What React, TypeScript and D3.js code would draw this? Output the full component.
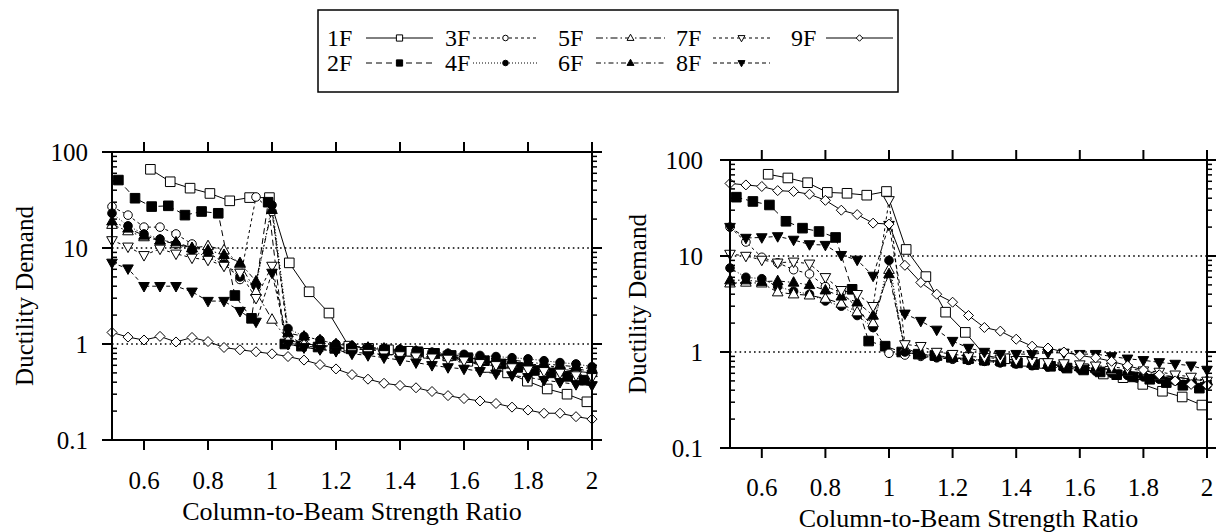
import React from 'react';
import * as d3 from 'd3';

// ---------- DATA ----------
const X_GRID = [0.5, 0.55, 0.6, 0.65, 0.7, 0.75, 0.8, 0.85, 0.9, 0.95, 1.0, 1.05, 1.1, 1.15, 1.2, 1.25, 1.3, 1.35, 1.4, 1.45, 1.5, 1.55, 1.6, 1.65, 1.7, 1.75, 1.8, 1.85, 1.9, 1.95, 2.0];
const X_1F = [0.62, 0.682, 0.744, 0.806, 0.868, 0.93, 0.992, 1.054, 1.116, 1.178, 1.24, 1.302, 1.364, 1.426, 1.488, 1.55, 1.612, 1.674, 1.736, 1.798, 1.86, 1.922, 1.984];
const X_2F = [0.52, 0.572, 0.624, 0.676, 0.728, 0.78, 0.832, 0.884, 0.936, 0.988, 1.04, 1.092, 1.144, 1.196, 1.248, 1.3, 1.352, 1.404, 1.456, 1.508, 1.56, 1.612, 1.664, 1.716, 1.768, 1.82, 1.872, 1.924, 1.976];

const X_TICKS = [0.6, 0.8, 1.0, 1.2, 1.4, 1.6, 1.8, 2.0];
const X_TICK_LABELS = ['0.6', '0.8', '1', '1.2', '1.4', '1.6', '1.8', '2'];
const Y_TICKS = [0.1, 1, 10, 100];
const Y_TICK_LABELS = ['0.1', '1', '10', '100'];
const REF_LINES = [1, 10];

const SERIES_NAMES = ['1F', '2F', '3F', '4F', '5F', '6F', '7F', '8F', '9F'];

// Left panel
const L_1F = [66, 49, 42, 37, 31, 33.5, 33.5, 7, 3.5, 2.1, 0.95, 0.9, 0.87, 0.84, 0.8, 0.75, 0.66, 0.57, 0.5, 0.41, 0.34, 0.3, 0.25];
const L_2F = [51, 33, 27, 27.5, 22, 24, 23, 3.2, 1.85, 30, 1.0, 0.95, 0.93, 0.9, 0.89, 0.87, 0.86, 0.84, 0.83, 0.8, 0.76, 0.72, 0.67, 0.62, 0.57, 0.53, 0.5, 0.46, 0.42];
const L_3F = [27, 22, 16.5, 16.5, 14, 11, 9, 7, 4.7, 34, 24, 1.2, 1.0, 0.95, 0.92, 0.9, 0.88, 0.85, 0.82, 0.8, 0.78, 0.75, 0.72, 0.7, 0.68, 0.65, 0.62, 0.6, 0.57, 0.55, 0.52];
const L_4F = [23, 17, 14, 12.4, 11, 9.4, 8, 6.8, 5, 4, 28, 1.45, 1.2, 1.1, 1.0, 0.95, 0.92, 0.9, 0.88, 0.85, 0.82, 0.8, 0.78, 0.76, 0.74, 0.72, 0.7, 0.67, 0.64, 0.62, 0.58];
const L_5F = [17.5, 15, 13, 12, 11, 10, 10.5, 9.5, 6.8, 3.5, 1.8, 1.1, 1.0, 0.97, 0.94, 0.9, 0.87, 0.84, 0.82, 0.8, 0.77, 0.74, 0.71, 0.68, 0.65, 0.62, 0.6, 0.57, 0.55, 0.52, 0.5];
const L_6F = [19, 16, 13.5, 12, 11.5, 10, 9.5, 8.5, 7, 4.5, 25, 1.3, 1.2, 1.1, 1.0, 0.95, 0.92, 0.9, 0.87, 0.84, 0.8, 0.78, 0.75, 0.72, 0.7, 0.68, 0.65, 0.62, 0.6, 0.58, 0.55];
const L_7F = [12, 10.3, 8.4, 9.8, 8.7, 7.9, 7.5, 6.5, 5.5, 3, 6.5, 1.0, 0.92, 0.88, 0.85, 0.82, 0.8, 0.78, 0.76, 0.74, 0.72, 0.7, 0.67, 0.63, 0.6, 0.57, 0.54, 0.52, 0.5, 0.47, 0.45];
const L_8F = [7, 6.1, 4.0, 4.0, 4.0, 3.5, 2.8, 2.8, 2.2, 1.7, 5.5, 1.0, 0.92, 0.88, 0.84, 0.79, 0.76, 0.72, 0.68, 0.64, 0.6, 0.57, 0.55, 0.52, 0.49, 0.47, 0.45, 0.42, 0.4, 0.38, 0.37];
const L_9F = [1.32, 1.18, 1.1, 1.2, 1.05, 1.17, 1.06, 0.92, 0.87, 0.83, 0.79, 0.74, 0.68, 0.61, 0.55, 0.48, 0.43, 0.39, 0.37, 0.35, 0.32, 0.29, 0.27, 0.255, 0.24, 0.22, 0.205, 0.19, 0.19, 0.175, 0.165];

// Right panel
const R_1F = [71, 65, 58, 46, 45, 43, 47, 11.7, 6.1, 2.6, 1.6, 0.92, 0.85, 0.8, 0.76, 0.72, 0.67, 0.59, 0.54, 0.46, 0.39, 0.34, 0.28];
const R_2F = [41, 37, 34, 23, 19.5, 18, 15.6, 4.5, 1.3, 1.15, 1.0, 0.95, 0.92, 0.88, 0.85, 0.82, 0.8, 0.77, 0.74, 0.71, 0.68, 0.65, 0.62, 0.58, 0.55, 0.52, 0.48, 0.45, 0.42];
const R_3F = [20, 14, 9.7, 8.5, 7.2, 6.5, 4.8, 4.2, 2.9, 1.8, 0.97, 0.93, 0.9, 0.87, 0.84, 0.82, 0.8, 0.78, 0.76, 0.74, 0.72, 0.7, 0.68, 0.66, 0.63, 0.6, 0.57, 0.55, 0.52, 0.5, 0.47];
const R_4F = [7.5, 6.0, 5.8, 4.8, 4.3, 4.0, 3.4, 3.0, 2.4, 1.8, 9, 1.0, 0.92, 0.88, 0.85, 0.82, 0.8, 0.77, 0.75, 0.72, 0.7, 0.68, 0.66, 0.63, 0.6, 0.57, 0.55, 0.52, 0.5, 0.47, 0.45];
const R_5F = [5.2, 5.3, 5.2, 4.2, 4.0, 3.9, 3.6, 3.2, 2.6, 2.0, 7.2, 1.1, 0.95, 0.9, 0.87, 0.84, 0.82, 0.8, 0.78, 0.76, 0.74, 0.72, 0.7, 0.67, 0.64, 0.62, 0.6, 0.57, 0.55, 0.52, 0.5];
const R_6F = [5.6, 5.6, 5.4, 5.5, 5.3, 5.0, 4.4, 3.8, 3.3, 2.4, 6.5, 1.05, 0.95, 0.9, 0.87, 0.84, 0.82, 0.8, 0.78, 0.76, 0.74, 0.72, 0.7, 0.68, 0.66, 0.63, 0.6, 0.58, 0.55, 0.52, 0.5];
const R_7F = [10.5, 10, 9.1, 8.5, 8.7, 8.3, 6.0, 4.4, 4.0, 3.0, 38, 1.2, 1.15, 1.0, 0.95, 0.9, 0.88, 0.85, 0.82, 0.8, 0.78, 0.76, 0.74, 0.72, 0.7, 0.67, 0.64, 0.62, 0.58, 0.55, 0.5];
const R_8F = [20, 15.4, 15.6, 16, 14.7, 13.2, 13, 10.2, 9.1, 6.2, 21, 2.5, 2.1, 1.7, 1.3, 1.1, 1.0, 0.95, 0.95, 0.95, 0.98, 0.98, 0.95, 0.95, 0.9, 0.85, 0.82, 0.78, 0.75, 0.72, 0.65];
const R_9F = [57, 55, 53, 48, 47, 44, 38, 30, 27, 22, 21.5, 8, 5.3, 4.0, 3.3, 2.4, 1.8, 1.65, 1.36, 1.15, 1.1, 1.0, 0.92, 0.87, 0.8, 0.72, 0.65, 0.58, 0.5, 0.46, 0.45];

const LEFT_VALUES = [L_1F, L_2F, L_3F, L_4F, L_5F, L_6F, L_7F, L_8F, L_9F];
const RIGHT_VALUES = [R_1F, R_2F, R_3F, R_4F, R_5F, R_6F, R_7F, R_8F, R_9F];
const SERIES_X = [X_1F, X_2F, X_GRID, X_GRID, X_GRID, X_GRID, X_GRID, X_GRID, X_GRID];

// ---------- STYLE ----------
const FONT = '"Liberation Serif", "Times New Roman", Times, serif';
type Shape = 'square' | 'circle' | 'triangle' | 'triangleDown' | 'diamond';
const STYLES: { shape: Shape; filled: boolean; dash: string | null }[] = [
  { shape: 'square', filled: false, dash: null },
  { shape: 'square', filled: true, dash: '6,4' },
  { shape: 'circle', filled: false, dash: '3,3' },
  { shape: 'circle', filled: true, dash: '1,2' },
  { shape: 'triangle', filled: false, dash: '7,3,1.5,3' },
  { shape: 'triangle', filled: true, dash: '5,3,1.5,3' },
  { shape: 'triangleDown', filled: false, dash: '3,3' },
  { shape: 'triangleDown', filled: true, dash: '4,3' },
  { shape: 'diamond', filled: false, dash: null },
];

function Marker({ shape, filled, x, y, k = 1 }: { shape: Shape; filled: boolean; x: number; y: number; k?: number }) {
  const fill = filled ? '#000' : '#fff';
  if (shape === 'circle') return <circle cx={x} cy={y} r={4.3 * k} fill={fill} stroke="#000" strokeWidth={1} />;
  let d = '';
  if (shape === 'square') d = `M${x - 4.8 * k},${y - 4.8 * k}h${9.6 * k}v${9.6 * k}h${-9.6 * k}Z`;
  else if (shape === 'triangle') d = `M${x},${y - 5.8 * k}L${x + 5.3 * k},${y + 3.7 * k}L${x - 5.3 * k},${y + 3.7 * k}Z`;
  else if (shape === 'triangleDown') d = `M${x},${y + 5.8 * k}L${x + 5.3 * k},${y - 3.7 * k}L${x - 5.3 * k},${y - 3.7 * k}Z`;
  else d = `M${x},${y - 5 * k}L${x + 5 * k},${y}L${x},${y + 5 * k}L${x - 5 * k},${y}Z`;
  return <path d={d} fill={fill} stroke="#000" strokeWidth={1} />;
}

type PanelProps = {
  left: number; right: number; top: number; bottom: number;
  values: number[][]; yLabelCx: number; tickLabelRight: number; xTickBaseline: number; titleBaseline: number;
};

function Panel({ left, right, top, bottom, values, yLabelCx, tickLabelRight, xTickBaseline, titleBaseline }: PanelProps) {
  const x = d3.scaleLinear().domain([0.5, 2]).range([left, right]);
  const y = d3.scaleLog().domain([0.1, 100]).range([bottom, top]);
  const line = d3.line<[number, number]>().x(d => x(d[0])).y(d => y(d[1]));
  const minors: number[] = [];
  [0.1, 1, 10].forEach(dec => { for (let m = 2; m <= 9; m++) minors.push(dec * m); });
  const series = values.map((vals, i) => vals.map((v, j) => [SERIES_X[i][j], v] as [number, number]));
  return (
    <g>
      {REF_LINES.map(v => (
        <line key={v} x1={left} x2={right} y1={y(v)} y2={y(v)} stroke="#000" strokeWidth={1.6} strokeDasharray="1.6,3.2" />
      ))}
      {series.map((pts, i) => (
        <path key={'l' + i} d={line(pts) || ''} fill="none" stroke="#000" strokeWidth={1}
          strokeDasharray={STYLES[i].dash || undefined} />
      ))}
      {series.map((pts, i) => (
        <g key={'m' + i}>
          {pts.map((p, j) => <Marker key={j} shape={STYLES[i].shape} filled={STYLES[i].filled} x={x(p[0])} y={y(p[1])} />)}
        </g>
      ))}
      {/* frame */}
      <line x1={left} x2={left} y1={top} y2={bottom} stroke="#000" strokeWidth={2} />
      <line x1={right} x2={right} y1={top - 10} y2={bottom + 10} stroke="#000" strokeWidth={2} />
      <line x1={left - 10} x2={right} y1={top} y2={top} stroke="#000" strokeWidth={2} />
      <line x1={left - 10} x2={right} y1={bottom} y2={bottom} stroke="#000" strokeWidth={2} />
      {X_TICKS.map(t => (
        <g key={'xt' + t}>
          <line x1={x(t)} x2={x(t)} y1={bottom} y2={bottom + 10} stroke="#000" strokeWidth={2} />
          <line x1={x(t)} x2={x(t)} y1={top} y2={top - 10} stroke="#000" strokeWidth={2} />
        </g>
      ))}
      {Y_TICKS.map(t => (
        <g key={'yt' + t}>
          <line x1={left - 10} x2={left} y1={y(t)} y2={y(t)} stroke="#000" strokeWidth={2} />
          <line x1={right} x2={right + 10} y1={y(t)} y2={y(t)} stroke="#000" strokeWidth={2} />
        </g>
      ))}
      {minors.map(t => (
        <g key={'mt' + t}>
          <line x1={left} x2={left + 5} y1={y(t)} y2={y(t)} stroke="#000" strokeWidth={1.5} />
          <line x1={right} x2={right + 5} y1={y(t)} y2={y(t)} stroke="#000" strokeWidth={1.5} />
        </g>
      ))}
      {X_TICKS.map((t, i) => (
        <text key={'xl' + t} x={x(t)} y={xTickBaseline} textAnchor="middle" fontSize={25} fontFamily={FONT}>{X_TICK_LABELS[i]}</text>
      ))}
      {Y_TICKS.map((t, i) => (
        <text key={'yl' + t} x={tickLabelRight} y={y(t)} dy="0.35em" textAnchor="end" fontSize={25} fontFamily={FONT}>{Y_TICK_LABELS[i]}</text>
      ))}
      <text x={(left + right) / 2} y={titleBaseline} textAnchor="middle" fontSize={26} fontFamily={FONT}>Column-to-Beam Strength Ratio</text>
      <text transform={`translate(${yLabelCx},${(top + bottom) / 2}) rotate(-90)`} dy="0.35em" textAnchor="middle" fontSize={25} fontFamily={FONT}>Ductility Demand</text>
    </g>
  );
}

// legend layout
const LEG_TEXT_X = [327, 445, 558, 676, 791];
const LEG_LINE = [[366, 433], [473, 538], [596, 665], [713, 770], [826, 893]];
const LEG_ROW_Y = [38, 63];

function Legend() {
  return (
    <g>
      <rect x={318} y={10} width={580} height={82} fill="#fff" stroke="#000" strokeWidth={1.5} />
      {SERIES_NAMES.map((name, i) => {
        const col = Math.floor(i / 2);
        const row = i % 2;
        const cy = LEG_ROW_Y[row];
        const [a, b] = LEG_LINE[col];
        const st = STYLES[i];
        return (
          <g key={name}>
            <text x={LEG_TEXT_X[col]} y={cy} dy="0.35em" fontSize={24} fontFamily={FONT}>{name}</text>
            <line x1={a} x2={b} y1={cy} y2={cy} stroke="#000" strokeWidth={1} strokeDasharray={st.dash || undefined} />
            <Marker shape={st.shape} filled={st.filled} x={(a + b) / 2} y={cy} k={0.65} />
          </g>
        );
      })}
    </g>
  );
}

export default function App() {
  return (
    <svg width={1216} height={532} style={{ position: 'absolute', left: 0, top: 0, background: '#fff' }}>
      <rect width={1216} height={532} fill="#fff" />
      <Legend />
      <Panel left={112} right={592} top={152} bottom={440} values={LEFT_VALUES}
        yLabelCx={24} tickLabelRight={88} xTickBaseline={489} titleBaseline={520} />
      <Panel left={730} right={1207} top={160} bottom={448} values={RIGHT_VALUES}
        yLabelCx={637} tickLabelRight={703} xTickBaseline={496} titleBaseline={527} />
    </svg>
  );
}
